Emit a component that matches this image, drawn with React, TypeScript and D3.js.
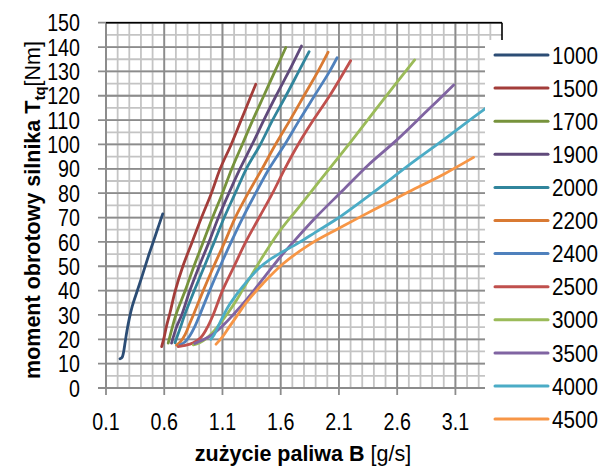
import React from "react";
import * as d3 from "d3";

// rpm series: [fuel consumption B g/s, torque Nm]
const rpmLabels = ["1000", "1500", "1700", "1900", "2000", "2200", "2400", "2500", "3000", "3500", "4000", "4500"];
const rpmColors = ["#2C4D75", "#A33D3A", "#77933C", "#604A7B", "#31859C", "#D97A33", "#4F81BD", "#C0504D", "#9BBB59", "#8064A2", "#4BACC6", "#F79646"];

const s1000 = [[0.22, 12], [0.238, 12.6], [0.25, 14.5], [0.265, 19], [0.28, 23.5], [0.3, 28.5], [0.325, 33.5], [0.355, 38], [0.39, 43], [0.43, 49], [0.47, 55], [0.52, 62], [0.555, 67], [0.587, 71.5]];
const s1500 = [[0.578, 17], [0.6, 21], [0.62, 25.5], [0.65, 31], [0.695, 40], [0.76, 50], [0.84, 60], [0.92, 70], [1.005, 80], [1.08, 90], [1.175, 100], [1.26, 110], [1.345, 120], [1.386, 124.7]];
const s1700 = [[0.634, 18.4], [0.67, 25], [0.7, 30], [0.78, 40], [0.855, 50], [0.935, 60], [1.015, 70], [1.1, 80], [1.18, 90], [1.27, 100], [1.36, 110], [1.455, 120], [1.55, 130], [1.644, 139.8]];
const s1900 = [[0.663, 18.4], [0.705, 25], [0.75, 30], [0.82, 40], [0.9, 50], [0.985, 60], [1.065, 70], [1.155, 80], [1.25, 90], [1.355, 100], [1.455, 110], [1.56, 120], [1.67, 130], [1.778, 140.4]];
const s2000 = [[0.692, 18.6], [0.74, 25], [0.775, 30], [0.858, 40], [0.945, 50], [1.03, 60], [1.115, 70], [1.21, 80], [1.305, 90], [1.425, 100], [1.53, 110], [1.645, 120], [1.755, 130], [1.844, 138.1]];
const s2200 = [[0.706, 17.6], [0.74, 19], [0.78, 22], [0.82, 26.6], [0.85, 30], [0.935, 40], [1.025, 50], [1.12, 60], [1.21, 70], [1.32, 80], [1.44, 90], [1.555, 100], [1.68, 110], [1.8, 120], [1.92, 130], [2.007, 137.9]];
const s2400 = [[0.735, 17.7], [0.78, 19], [0.82, 21.5], [0.86, 25], [0.905, 30], [0.99, 40], [1.08, 50], [1.175, 60], [1.275, 70], [1.385, 80], [1.5, 90], [1.635, 100], [1.76, 110], [1.89, 120], [2.02, 130], [2.084, 135.6]];
const s2500 = [[0.72, 17], [0.78, 17.5], [0.85, 18.6], [0.91, 20.5], [0.96, 24], [1.02, 30], [1.1, 40], [1.2, 50], [1.3, 60], [1.415, 70], [1.53, 80], [1.635, 90], [1.75, 100], [1.88, 110], [2.02, 120], [2.2, 134.4]];
const s3000 = [[0.85, 17.7], [0.9, 18.5], [0.96, 20.3], [1.02, 23], [1.08, 26.5], [1.15, 31], [1.22, 36], [1.3, 42.5], [1.34, 45.5], [1.42, 52], [1.5, 58], [1.6, 65], [1.76, 74.5], [1.95, 86], [2.2, 101], [2.45, 116.5], [2.75, 134.7]];
const s3500 = [[0.863, 18.3], [0.92, 19.5], [1.0, 21.5], [1.1, 25.5], [1.2, 30.5], [1.31, 36.5], [1.5, 48], [1.6, 54], [1.7, 59.5], [1.9, 70], [2.13, 81], [2.35, 91.5], [2.6, 102], [2.85, 113.5], [3.085, 124.4]];
const s4000 = [[1.0, 20], [1.03, 22], [1.06, 25], [1.1, 29], [1.15, 33.5], [1.2, 37], [1.28, 42], [1.34, 45.5], [1.42, 49.5], [1.5, 52.5], [1.6, 55.5], [1.75, 59.5], [1.9, 64], [2.1, 70], [2.4, 80.5], [2.7, 91.5], [3.0, 102], [3.33, 113.8], [3.5, 119.5]];
const s4500 = [[1.045, 18], [1.1, 21], [1.16, 25.2], [1.23, 30], [1.3, 34.8], [1.45, 43], [1.62, 51], [1.85, 59], [2.1, 65.6], [2.4, 73.2], [2.7, 80.6], [3.0, 87.8], [3.256, 94.7]];

const xTickValues = [0.1, 0.6, 1.1, 1.6, 2.1, 2.6, 3.1];
const xTickLabels = ["0.1", "0.6", "1.1", "1.6", "2.1", "2.6", "3.1"];
const yTickValues = [0, 10, 20, 30, 40, 50, 60, 70, 80, 90, 100, 110, 120, 130, 140, 150];

const allSeries = [s1000, s1500, s1700, s1900, s2000, s2200, s2400, s2500, s3000, s3500, s4000, s4500];

const W = 603, H = 467;
const left = 106, right = 502, top = 22.7, bottom = 388;
const sans = "'Liberation Sans', Arial, sans-serif";

// no narrow font installed: squeeze the numbers to a narrow width
const narrowWidth = (s: string, size: number, k: number) =>
  s.split("").reduce((w, c) => w + (c === "." ? 0.278 : 0.556), 0) * size * k;

export default function App() {
  const x = d3.scaleLinear().domain([0.1, 3.5]).range([left, right]);
  const y = d3.scaleLinear().domain([0, 150]).range([bottom, top]);

  const minorX = d3.range(0, 35).map((i) => 0.1 + i * 0.1).filter((v) => v < 3.49);
  const minorY = d3.range(0, 31).map((i) => i * 5);

  const line = d3
    .line<number[]>()
    .x((d) => x(d[0]))
    .y((d) => y(d[1]))
    .curve(d3.curveCatmullRom.alpha(0.5));

  const legendY0 = 55;
  const legendStep = 33.1;

  return (
    <svg width={W} height={H} style={{ position: "absolute", left: 0, top: 0, background: "#fff" }}>
      <defs>
        <clipPath id="plot">
          <rect x={left} y={top} width={right - left} height={bottom - top} />
        </clipPath>
      </defs>

      {/* minor grid */}
      {minorX.map((v, i) => (
        <line key={"mx" + i} x1={x(v)} x2={x(v)} y1={top} y2={bottom} stroke="#c4c4c4" strokeWidth={1.8} />
      ))}
      {minorY.map((v, i) => (
        <line key={"my" + i} x1={left} x2={right} y1={y(v)} y2={y(v)} stroke="#c4c4c4" strokeWidth={1.8} />
      ))}
      {/* major grid */}
      {xTickValues.map((v, i) => (
        <line key={"Mx" + i} x1={x(v)} x2={x(v)} y1={top} y2={bottom + 7} stroke="#8c8c8c" strokeWidth={1.8} />
      ))}
      {yTickValues.map((v, i) => (
        <line key={"My" + i} x1={left - 8} x2={right} y1={y(v)} y2={y(v)} stroke="#8c8c8c" strokeWidth={1.8} />
      ))}
      <line x1={left} x2={left} y1={top} y2={bottom} stroke="#8c8c8c" strokeWidth={1.8} />
      <line x1={left} x2={right} y1={top} y2={top} stroke="#000" strokeWidth={1.6} />
      <line x1={right} x2={right} y1={top} y2={bottom} stroke="#000" strokeWidth={1.6} />

      {/* series */}
      <g clipPath="url(#plot)">
        {allSeries.map((s, i) => (
          <path key={rpmLabels[i]} d={line(s) || ""} fill="none" stroke={rpmColors[i]} strokeWidth={2.8} strokeLinecap="round" />
        ))}
      </g>

      {/* y tick labels */}
      {yTickValues.map((v) => (
        <text key={"yl" + v} x={80} y={y(v)} dy="0.36em" textAnchor="end" fontFamily={sans} fontSize={24} fill="#000"
          textLength={narrowWidth(String(v), 24, 0.82)} lengthAdjust="spacingAndGlyphs">
          {v}
        </text>
      ))}
      {/* x tick labels */}
      {xTickValues.map((v, i) => (
        <text key={"xl" + v} x={x(v)} y={430} textAnchor="middle" fontFamily={sans} fontSize={24} fill="#000"
          textLength={narrowWidth(xTickLabels[i], 24, 0.82)} lengthAdjust="spacingAndGlyphs">
          {xTickLabels[i]}
        </text>
      ))}

      {/* axis titles */}
      <text x={303} y={461} textAnchor="middle" fontFamily={sans} fontSize={21.5} fill="#000">
        <tspan fontWeight="bold">zużycie paliwa B</tspan>
        <tspan> [g/s]</tspan>
      </text>
      <text transform="translate(40,210) rotate(-90)" textAnchor="middle" fontFamily={sans} fontSize={21.5} fill="#000">
        <tspan fontWeight="bold">moment obrotowy silnika T</tspan>
        <tspan fontWeight="bold" fontSize={15} dy={5}>tq</tspan>
        <tspan dy={-5}>[Nm]</tspan>
      </text>

      {/* legend */}
      <rect x={485} y={40} width={W - 485} height={H - 40} fill="#fff" />
      {rpmLabels.map((lab, i) => {
        const ly = legendY0 + i * legendStep;
        return (
          <g key={"lg" + lab}>
            <line x1={495} x2={548} y1={ly} y2={ly} stroke={rpmColors[i]} strokeWidth={3} strokeLinecap="round" />
            <text x={552} y={ly} dy="0.36em" fontFamily={sans} fontSize={24} fill="#000"
              textLength={narrowWidth(lab, 24, 0.86)} lengthAdjust="spacingAndGlyphs">
              {lab}
            </text>
          </g>
        );
      })}
    </svg>
  );
}
